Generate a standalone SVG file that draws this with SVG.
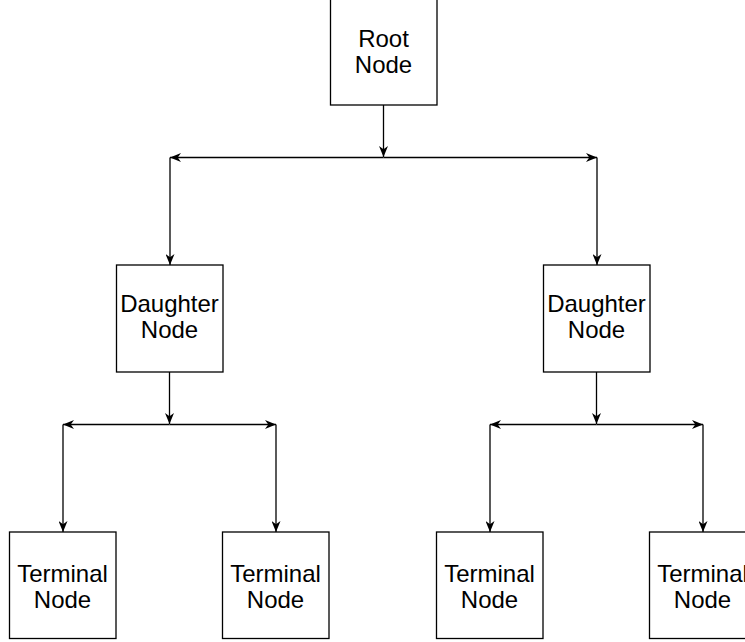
<svg xmlns="http://www.w3.org/2000/svg" width="745" height="642" viewBox="0 0 745 642">
<style>
.box{fill:#fff;stroke:#000;stroke-width:1.3}
.lbl{font-family:"Liberation Sans",Arial,Helvetica,sans-serif;font-size:24px;fill:#000;text-anchor:middle}
.edge{fill:none;stroke:#000;stroke-width:1.3}
</style>
<defs>
<marker id="arr" viewBox="0 0 11 9" refX="11" refY="4.5" markerWidth="11" markerHeight="9" markerUnits="userSpaceOnUse" orient="auto">
<path d="M0,0 L11,4.5 L0,9 L3.3,4.5 Z" fill="#000"/>
</marker>
</defs>
<rect width="745" height="642" fill="#fff"/>
<g id="connectors">
<path class="edge" d="M383.5,105 V157" marker-end="url(#arr)"/>
<path class="edge" d="M383.5,157.5 H170" marker-end="url(#arr)"/>
<path class="edge" d="M383.5,157.5 H597" marker-end="url(#arr)"/>
<path class="edge" d="M170,157.5 V265" marker-end="url(#arr)"/>
<path class="edge" d="M597,157.5 V265" marker-end="url(#arr)"/>
<path class="edge" d="M169.5,372 V424" marker-end="url(#arr)"/>
<path class="edge" d="M169.5,424.5 H63" marker-end="url(#arr)"/>
<path class="edge" d="M169.5,424.5 H276" marker-end="url(#arr)"/>
<path class="edge" d="M63,424.5 V532" marker-end="url(#arr)"/>
<path class="edge" d="M276,424.5 V532" marker-end="url(#arr)"/>
<path class="edge" d="M596.5,372 V424" marker-end="url(#arr)"/>
<path class="edge" d="M596.5,424.5 H490" marker-end="url(#arr)"/>
<path class="edge" d="M596.5,424.5 H703" marker-end="url(#arr)"/>
<path class="edge" d="M490,424.5 V532" marker-end="url(#arr)"/>
<path class="edge" d="M703,424.5 V532" marker-end="url(#arr)"/>
</g>
<g id="root">
<rect class="box" x="330.5" y="-2" width="106.5" height="107"/>
<text class="lbl" x="383.5" y="46.5">Root</text>
<text class="lbl" x="383.5" y="73">Node</text>
</g>
<g id="daughter1">
<rect class="box" x="116.5" y="265" width="106.5" height="107"/>
<text class="lbl" x="169.5" y="311.5">Daughter</text>
<text class="lbl" x="169.5" y="338">Node</text>
</g>
<g id="daughter2">
<rect class="box" x="543.5" y="265" width="106.5" height="107"/>
<text class="lbl" x="596.5" y="311.5">Daughter</text>
<text class="lbl" x="596.5" y="338">Node</text>
</g>
<g id="terminal1">
<rect class="box" x="9.5" y="532" width="106.5" height="106.5"/>
<text class="lbl" x="62.5" y="582">Terminal</text>
<text class="lbl" x="62.5" y="608">Node</text>
</g>
<g id="terminal2">
<rect class="box" x="222.5" y="532" width="106.5" height="106.5"/>
<text class="lbl" x="275.5" y="582">Terminal</text>
<text class="lbl" x="275.5" y="608">Node</text>
</g>
<g id="terminal3">
<rect class="box" x="436.5" y="532" width="106.5" height="106.5"/>
<text class="lbl" x="489.5" y="582">Terminal</text>
<text class="lbl" x="489.5" y="608">Node</text>
</g>
<g id="terminal4">
<rect class="box" x="649.5" y="532" width="106.5" height="106.5"/>
<text class="lbl" x="702.5" y="582">Terminal</text>
<text class="lbl" x="702.5" y="608">Node</text>
</g>
</svg>
